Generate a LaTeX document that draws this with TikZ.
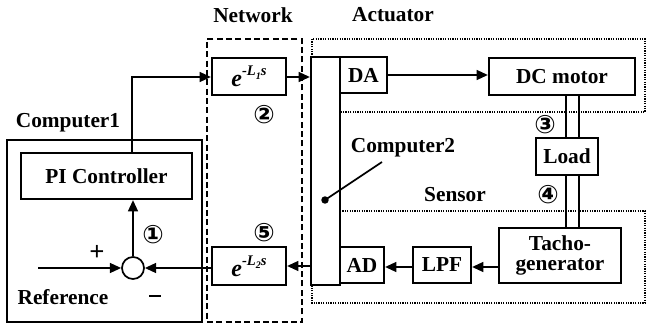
\documentclass[tikz,border=0pt]{standalone}
\usepackage{fontspec}
\setmainfont{Liberation Serif}
\newfontfamily\dejavu{DejaVu Sans}
\usetikzlibrary{arrows.meta}
\tikzset{
  x=0.75pt, y=-0.75pt,
  lbl/.style={font=\fontsize{16}{18}\selectfont\bfseries, inner sep=0pt},
  num/.style={font=\dejavu\bfseries\fontsize{19}{20}\selectfont, inner sep=0pt},
  blk/.style={draw, line width=1.7pt, inner sep=0pt, font=\fontsize{16}{18}\selectfont\bfseries, align=center},
  conn/.style={line width=1.3pt},
  arr/.style={line width=1.3pt, -{Triangle[length=8.5pt,width=7.5pt]}},
  netbox/.style={draw, line width=1.3pt, dash pattern=on 4.5pt off 2.5pt, inner sep=0pt},
  dotline/.style={line width=1.2pt, dash pattern=on 0.9pt off 0.9pt},
}
\newcommand{\delayexp}[1]{{\bfseries\itshape\fontsize{18}{20}\selectfont e\raisebox{1.0ex}{\fontsize{11}{12}\selectfont -L\raisebox{-0.5ex}{\fontsize{7.5}{8}\selectfont #1}s}}}
\begin{document}
\begin{tikzpicture}
\useasboundingbox (0,0) rectangle (647,324);
% Computer1
\node[blk, minimum width=146.25pt, minimum height=136.5pt] (comp1) at (104.5,231) {};
\node[blk, minimum width=128.25pt, minimum height=34.5pt] (pi) at (106.5,176) {PI Controller};
\node[draw, circle, line width=1.3pt, minimum size=16.5pt, inner sep=0pt] (sum) at (133,268) {};
% Network
\node[netbox, minimum width=71.25pt, minimum height=212.25pt] (net) at (254.5,180.5) {};
\node[blk, minimum width=55.5pt, minimum height=27.75pt] (d1) at (249,76.5) {\delayexp{1}};
\node[blk, minimum width=55.5pt, minimum height=28.5pt] (d2) at (249,266) {\delayexp{2}};
% Computer2
\node[blk, minimum width=21.75pt, minimum height=171pt] (comp2) at (325.5,171) {};
\node[blk, minimum width=35.25pt, minimum height=27pt] (da) at (363.5,75) {DA};
\node[blk, minimum width=33pt, minimum height=27pt] (ad) at (362,265) {AD};
% Plant
\node[blk, minimum width=109.5pt, minimum height=27.75pt] (dcm) at (562,76.5) {DC motor};
\node[blk, minimum width=46.5pt, minimum height=27.75pt] (load) at (567,156.5) {Load};
\node[blk, minimum width=91.5pt, minimum height=41.25pt] (tacho) at (560,255.5) {Tacho-\\[-3pt]generator};
\node[blk, minimum width=43.5pt, minimum height=27pt] (lpf) at (442,265) {LPF};
% dotted regions
\coordinate (a1) at (312,57);
\coordinate (a2) at (312,39);
\coordinate (a3) at (645,39);
\coordinate (a4) at (645,112);
\coordinate (a5) at (340,112);
\draw[dotline] (a1) -- (a2) -- (a3) -- (a4) -- (a5);
\coordinate (s1) at (340,211);
\coordinate (s2) at (645,211);
\coordinate (s3) at (645,303);
\coordinate (s4) at (312,303);
\coordinate (s5) at (312,285);
\draw[dotline] (s1) -- (s2) -- (s3) -- (s4) -- (s5);
% connectors
\coordinate (corner) at (132,77);
\draw[arr] (pi.north -| corner) -- (corner) -- (d1.west |- corner);
\draw[arr] (d1.east |- corner) -- (comp2.west |- corner);
\draw[arr] (da.east) -- (dcm.west |- da.east);
\coordinate (fb) at (0,266);
\draw[arr] (comp2.west |- fb) -- (d2.east |- fb);
\draw[arr] (d2.west |- sum.east) -- (sum.east);
\coordinate (inp) at (38,268);
\draw[arr] (inp) -- (sum.west);
\draw[arr] (sum.north) -- (sum.north |- pi.south);
\coordinate (tl) at (0,267);
\draw[arr] (tacho.west |- tl) -- (lpf.east |- tl);
\draw[arr] (lpf.west |- tl) -- (ad.east |- tl);
% shafts
\coordinate (sha) at (566,0);
\coordinate (shb) at (579,0);
\draw[conn] (sha |- dcm.south) -- (sha |- load.north);
\draw[conn] (shb |- dcm.south) -- (shb |- load.north);
\draw[conn] (sha |- load.south) -- (sha |- tacho.north);
\draw[conn] (shb |- load.south) -- (shb |- tacho.north);
% Computer2 leader
\coordinate (dot) at (325,200);
\coordinate (lead) at (382,162);
\fill (dot) circle (2.8pt);
\draw[conn] (dot) -- (lead);
% labels
\node[lbl] (lnet) at (253,15) {Network};
\node[lbl] (lact) at (393,15) {Actuator};
\node[lbl] (lc1) at (68,123) {Computer1};
\node[lbl] (lc2) at (403,148) {Computer2};
\node[lbl] (lsen) at (455,195) {Sensor};
\node[lbl] (lref) at (63,297) {Reference};
\node[lbl] (lminus) at (155,296) {\rule{9pt}{1.8pt}};
\node[lbl, font=\fontsize{20}{20}\selectfont\bfseries] (lplus) at (97,253) {+};
\node[num] (n1) at (153,235) {①};
\node[num] (n2) at (264,115) {②};
\node[num] (n3) at (545,125) {③};
\node[num] (n4) at (548,195) {④};
\node[num] (n5) at (264,233) {⑤};
\end{tikzpicture}
\end{document}
